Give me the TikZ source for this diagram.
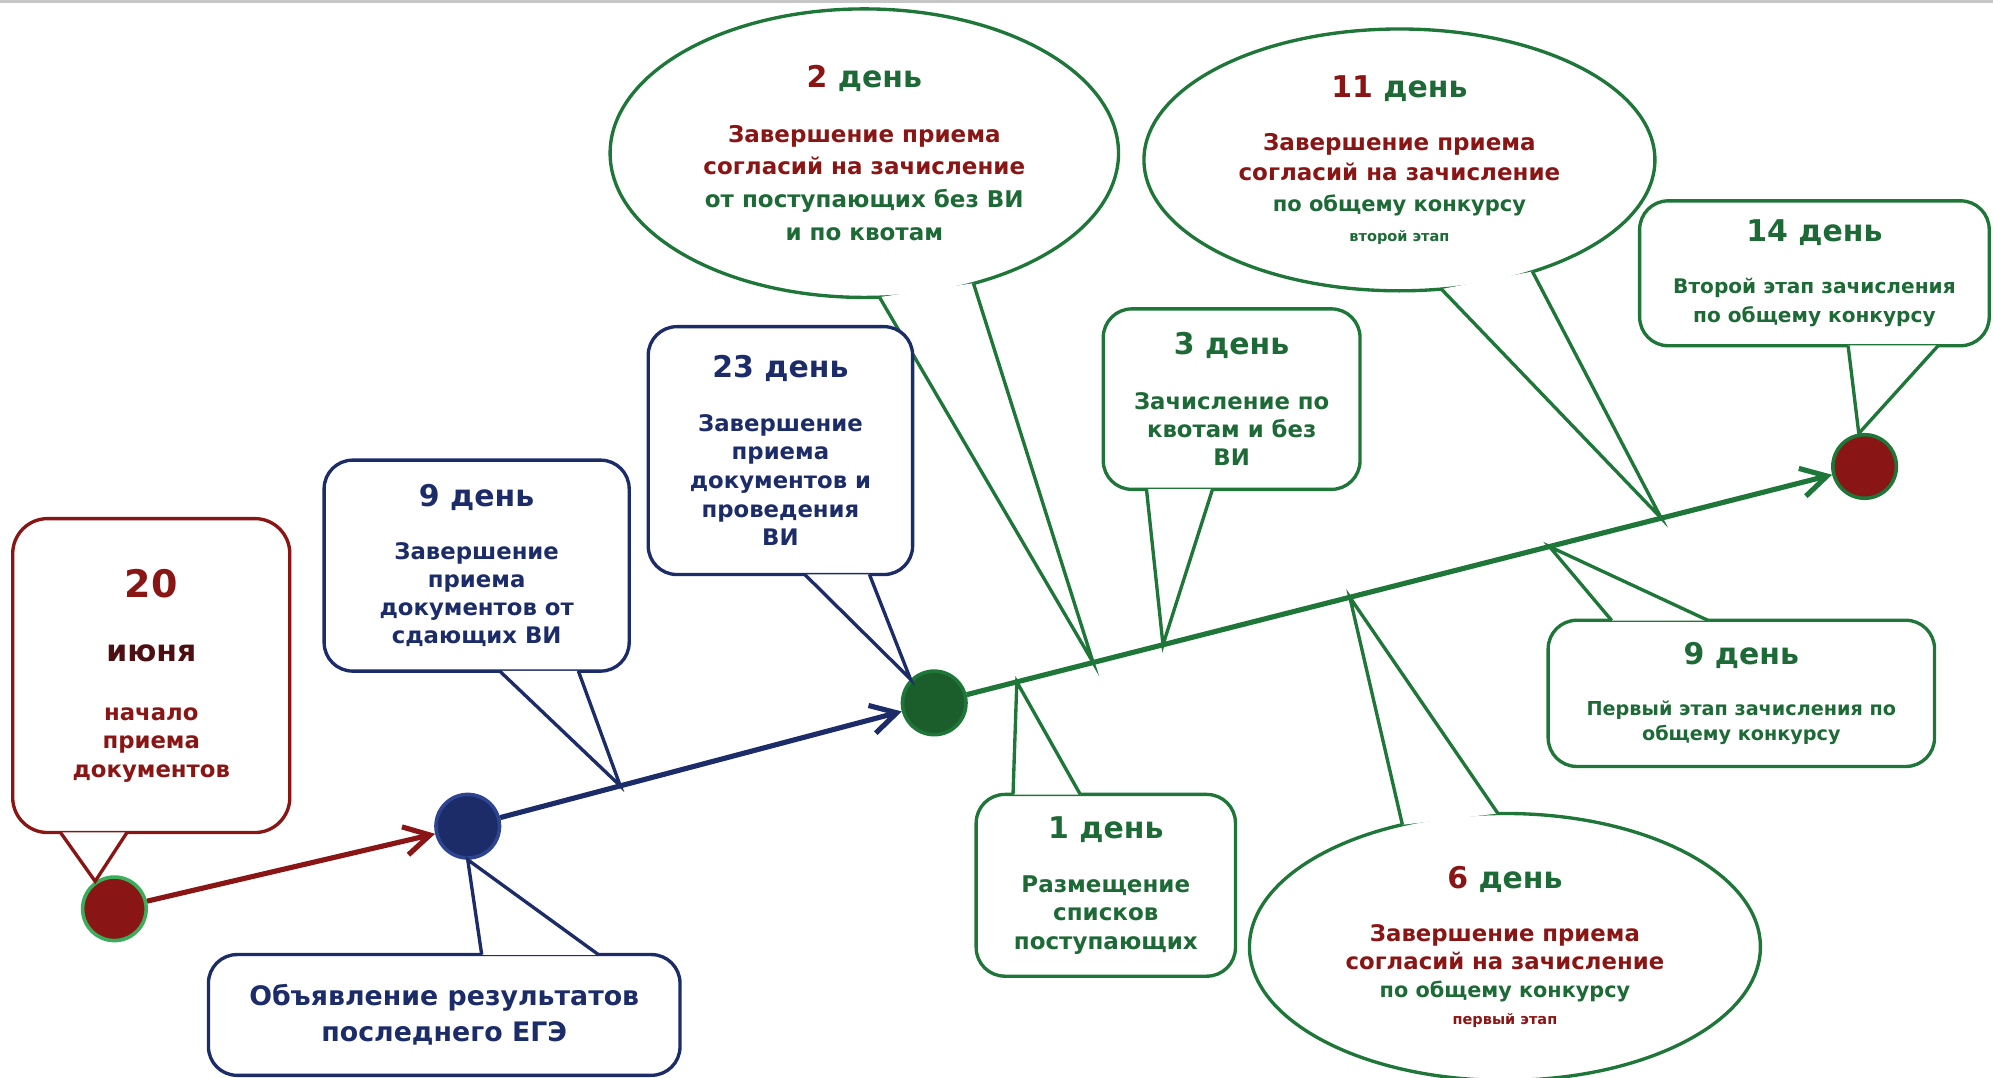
\documentclass[tikz,border=0pt]{standalone}
\usepackage{fontspec}
\setmainfont{DejaVu Sans}
\usetikzlibrary{arrows.meta,calc,shapes.geometric}
\definecolor{dred}{HTML}{8A1515}
\definecolor{dmaroon}{HTML}{4E0F12}
\definecolor{dblue}{HTML}{1C2C68}
\definecolor{mblue}{HTML}{2E4490}
\definecolor{dgreen}{HTML}{1E7639}
\definecolor{tgreen}{HTML}{1D6A36}
\definecolor{lgreen}{HTML}{3AAE5A}
\definecolor{fgreen}{HTML}{1B5E2C}
\newcommand{\dayfont}{\fontsize{13.4}{16}\selectfont}
\newcommand{\txtfont}{\fontsize{10.2}{12.6}\selectfont}

\begin{document}
\begin{tikzpicture}[scale=0.2]
    \tikzstyle{every node}+=[inner sep=0pt]
    \tikzstyle{box}=[draw, fill=white, line width=1.5pt, rounded corners=4.5mm, align=center, font=\bfseries\txtfont]
    \tikzstyle{bubble}=[draw, fill=white, ellipse, line width=1.5pt, align=center, font=\bfseries\txtfont]
    \tikzstyle{dot}=[circle, minimum size=10mm, line width=1.6pt]
    \tikzstyle{tail}=[fill=white, line width=1.5pt]
    \tikzstyle{arrowline}=[line width=2.3pt, -{Straight Barb[length=4mm,width=4.5mm]}]
    \useasboundingbox (0,0) rectangle (156.8,-84.8);
    \draw [gray!45, line width=1.3pt] (0,-0.1) -- (156.8,-0.1);
    % dots
    \node [dot, fill=dred, draw=lgreen] (c1) at (9.0,-71.5) {};
    \node [dot, fill=dblue, draw=mblue] (c2) at (36.8,-65.0) {};
    \node [dot, fill=fgreen, draw=dgreen] (c3) at (73.5,-55.3) {};
    \node [dot, fill=dred, draw=dgreen] (c4) at (146.7,-36.7) {};
    % points on the lines
    \coordinate (p9) at (48.8,-61.83);
    \coordinate (p1) at (80.0,-53.65);
    \coordinate (p2) at (86.0,-52.12);
    \coordinate (p3) at (91.5,-50.73);
    \coordinate (p6) at (106.2,-46.99);
    \coordinate (p9r) at (121.9,-43.0);
    \coordinate (p11) at (130.7,-40.77);
    % ellipses
    \node [bubble, draw=dgreen, minimum width=80mm, minimum height=45.4mm, font=\bfseries\fontsize{10.3}{14.7}\selectfont] (e2) at (68.0,-12.05) {\dayfont\textcolor{dred}{2} \textcolor{tgreen}{день}\\[9.6pt]
        \textcolor{dred}{Завершение приема}\\\textcolor{dred}{согласий на зачисление}\\
        \textcolor{tgreen}{от поступающих без ВИ}\\\textcolor{tgreen}{и по квотам}};
    \filldraw [tail, draw=dgreen] ($(e2.276)!0.012!(e2)$) -- (p2) -- ($(e2.310)!0.012!(e2)$);
    \node [bubble, draw=dgreen, minimum width=80.4mm, minimum height=41.2mm, font=\bfseries\fontsize{10.3}{13.6}\selectfont] (e11) at (110.1,-12.58) {\dayfont\textcolor{dred}{11} \textcolor{tgreen}{день}\\[10.2pt]
        \textcolor{dred}{Завершение приема}\\\textcolor{dred}{согласий на зачисление}\\
        \fontsize{9.4}{12.5}\selectfont\textcolor{tgreen}{по общему конкурсу}\\
        \fontsize{6.5}{10.8}\selectfont\textcolor{tgreen}{второй этап}};
    \filldraw [tail, draw=dgreen] ($(e11.288.5)!0.012!(e11)$) -- (p11) -- ($(e11.320)!0.012!(e11)$);
    \node [bubble, draw=dgreen, minimum width=80.4mm, minimum height=42mm, font=\bfseries\fontsize{10.2}{12.5}\selectfont] (e6) at (118.4,-74.5) {\dayfont\textcolor{dred}{6} \textcolor{tgreen}{день}\\[11.3pt]
        \textcolor{dred}{Завершение приема}\\\textcolor{dred}{согласий на зачисление}\\
        \fontsize{9.3}{12.5}\selectfont\textcolor{tgreen}{по общему конкурсу}\\
        \fontsize{6.5}{10.8}\selectfont\textcolor{dred}{первый этап}};
    \filldraw [tail, draw=dgreen] ($(e6.130.5)!0.012!(e6)$) -- (p6) -- ($(e6.93.8)!0.012!(e6)$);
    % boxes
    \node [box, draw=dred, minimum width=43.6mm, minimum height=49.4mm, rounded corners=5.5mm] (bA) at (11.9,-53.15) {\fontsize{17}{20}\selectfont\textcolor{dred}{20}\\[16pt]
        \dayfont\textcolor{dmaroon}{июня}\\[14pt]
        \textcolor{dred}{начало}\\\textcolor{dred}{приема}\\\textcolor{dred}{документов}};
    \filldraw [tail, draw=dred] ($(bA.south)+(-7.15,0.15)$) -- (c1.125) -- ($(bA.south)+(-1.9,0.15)$);
    \node [box, draw=dblue, text=dblue, minimum width=48mm, minimum height=33.2mm] (bB) at (37.5,-44.5) {\dayfont 9 день\\[11.2pt]
        Завершение\\приема\\документов от\\сдающих ВИ};
    \filldraw [tail, draw=dblue] ($(bB.south)+(1.8,0.15)$) -- (p9) -- ($(bB.south)+(8.0,0.15)$);
    \node [box, draw=dblue, text=dblue, minimum width=74.2mm, minimum height=19mm, font=\bfseries\fontsize{12}{15.9}\selectfont] (bE) at (34.95,-79.85) {Объявление результатов\\последнего ЕГЭ};
    \filldraw [tail, draw=dblue] ($(bE.north)+(2.95,-0.15)$) -- (c2.south) -- ($(bE.north)+(12.15,-0.15)$);
    \node [box, draw=dblue, text=dblue, minimum width=41.6mm, minimum height=39mm, font=\bfseries\fontsize{10.2}{12.8}\selectfont] (b23) at (61.4,-35.45) {\dayfont 23 день\\[11.2pt]
        Завершение\\приема\\документов и\\проведения\\ВИ};
    \filldraw [tail, draw=dblue] ($(b23.south)+(1.9,0.15)$) -- (c3.135) -- ($(b23.south)+(7.0,0.15)$);
    \node [box, draw=dgreen, text=tgreen, minimum width=40.4mm, minimum height=28.4mm] (b3) at (96.9,-31.4) {\dayfont 3 день\\[11.8pt]
        Зачисление по\\квотам и без\\ВИ};
    \filldraw [tail, draw=dgreen] ($(b3.south)+(-6.7,0.15)$) -- (p3) -- ($(b3.south)+(-1.5,0.15)$);
    \node [box, draw=dgreen, text=tgreen, minimum width=55mm, minimum height=22.8mm, font=\bfseries\fontsize{9}{13}\selectfont] (b14) at (142.75,-21.5) {\dayfont 14 день\\[10.2pt]
        Второй этап зачисления\\по общему конкурсу};
    \filldraw [tail, draw=dgreen] ($(b14.south)+(2.65,0.15)$) -- (c4.100) -- ($(b14.south)+(9.75,0.15)$);
    \node [box, draw=dgreen, text=tgreen, minimum width=40.8mm, minimum height=28.6mm, font=\bfseries\fontsize{10.3}{12.6}\selectfont] (b1) at (87.0,-69.65) {\dayfont 1 день\\[11.8pt]
        Размещение\\списков\\поступающих};
    \filldraw [tail, draw=dgreen] ($(b1.north)+(-7.3,-0.15)$) -- (p1) -- ($(b1.north)+(-2.0,-0.15)$);
    \node [box, draw=dgreen, text=tgreen, minimum width=60.8mm, minimum height=23mm, font=\bfseries\fontsize{8.6}{11.3}\selectfont] (b9) at (137.0,-54.55) {\dayfont 9 день\\[11.4pt]
        Первый этап зачисления по\\общему конкурсу};
    \filldraw [tail, draw=dgreen] ($(b9.north)+(-10.2,-0.15)$) -- (p9r) -- ($(b9.north)+(-2.6,-0.15)$);
    % lines
    \draw [arrowline, dred] (c1) -- (c2);
    \draw [arrowline, dblue] (c2) -- (c3);
    \draw [arrowline, dgreen] (c3) -- (c4);
\end{tikzpicture}
\end{document}
